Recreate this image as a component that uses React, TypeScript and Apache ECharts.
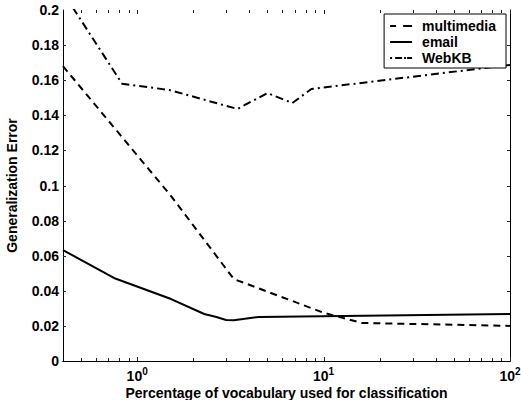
import React, { useEffect, useRef } from "react";
import * as echarts from "echarts";

// ---- Data ----
const seriesNames = ["multimedia", "email", "WebKB"];

const multimediaX = [0.4, 1.52, 3.3, 10, 16, 100];
const multimediaY = [0.168, 0.094, 0.0467, 0.0275, 0.0217, 0.02];

const emailX = [0.4, 0.75, 1.52, 2.29, 2.66, 3.0, 3.3, 4.5, 100];
const emailY = [0.0632, 0.0473, 0.0353, 0.0268, 0.0251, 0.0234, 0.0232, 0.0251, 0.0268];

const webkbX = [0.4, 0.83, 1.49, 3.45, 5.0, 6.8, 8.6, 100];
const webkbY = [0.21, 0.158, 0.1544, 0.1436, 0.1527, 0.147, 0.155, 0.1687];

const xMajorTicks = [1, 10, 100];
const xMinorTicks = [0.5, 0.6, 0.7, 0.8, 0.9, 2, 3, 4, 5, 6, 7, 8, 9, 20, 30, 40, 50, 60, 70, 80, 90];
const yTicks = [0.02, 0.04, 0.06, 0.08, 0.1, 0.12, 0.14, 0.16, 0.18];

const yMin = 0;
const yMax = 0.2;
const yStep = 0.02;
const xMin = 0.4;
const xMax = 100;

const FONT = "'Liberation Sans', Arial, Helvetica, sans-serif";

// legend icons (line samples)
const legendIcons: Record<string, string> = {
  multimedia: "path://M0,0h6v2h-6z M13,0h9v2h-9z",
  email: "path://M0,0h22v2h-22z",
  WebKB: "path://M0,0h2v2h-2z M5,0h7v2h-7z M14,0h2v2h-2z M17,0h5v2h-5z",
};

function zip(xs: number[], ys: number[]) {
  return xs.map((x, i) => [x, ys[i]]);
}

function tickRect(x: number, y: number, w: number, h: number) {
  return { type: "rect", shape: { x, y, width: w, height: h }, style: { fill: "#222" } };
}

export default function App() {
  const ref = useRef<HTMLDivElement>(null);

  useEffect(() => {
    if (!ref.current) return;
    const chart = echarts.init(ref.current, undefined, { renderer: "svg" });

    const xTickData = [
      ...xMajorTicks.map((v) => [v, 0.1, 1]),
      ...xMinorTicks.map((v) => [v, 0.1, 0]),
    ];
    const yTickData = yTicks.map((v) => [1, v]);

    const axisLineStyle = { show: true, lineStyle: { color: "#000", width: 1 } };

    const option: any = {
      animation: false,
      backgroundColor: "#fff",
      grid: {
        left: 63,
        right: 11,
        top: 10,
        bottom: 39,
        containLabel: false,
        outerBoundsMode: "none",
      },
      legend: {
        orient: "vertical",
        right: 15,
        top: 14,
        backgroundColor: "#fff",
        borderColor: "#000",
        borderWidth: 1,
        borderRadius: 0,
        padding: [5, 10, 3, 6],
        itemGap: 2,
        itemWidth: 22,
        itemHeight: 14,
        symbolKeepAspect: true,
        data: seriesNames.map((n) => ({ name: n, icon: legendIcons[n] })),
        textStyle: {
          fontFamily: FONT,
          fontWeight: "bold",
          fontSize: 14,
          color: "#000",
          padding: [0, 0, 0, 5],
        },
      },
      xAxis: [
        {
          type: "log",
          logBase: 10,
          min: xMin,
          max: xMax,
          position: "bottom",
          axisLine: axisLineStyle,
          axisTick: { show: false },
          splitLine: { show: false },
          axisLabel: {
            margin: 5,
            color: "#000",
            formatter: (v: number) => {
              const l = Math.log10(v);
              const k = Math.round(l);
              if (Math.abs(l - k) > 1e-6) return "";
              return `{b|10}{s|${k}}`;
            },
            rich: {
              b: { fontFamily: FONT, fontWeight: "bold", fontSize: 14, color: "#000" },
              s: { fontFamily: FONT, fontWeight: "bold", fontSize: 10, color: "#000", padding: [0, 0, 9, 0] },
            },
          },
          name: "Percentage of vocabulary used for classification",
          nameLocation: "middle",
          nameGap: 25,
          nameMoveOverlap: false,
          nameTextStyle: { fontFamily: FONT, fontWeight: "bold", fontSize: 14, color: "#000" },
        },
        {
          type: "log",
          logBase: 10,
          min: xMin,
          max: xMax,
          position: "top",
          axisLine: axisLineStyle,
          axisTick: { show: false },
          axisLabel: { show: false },
          splitLine: { show: false },
        },
      ],
      yAxis: [
        {
          type: "value",
          min: yMin,
          max: yMax,
          interval: yStep,
          position: "left",
          axisLine: axisLineStyle,
          axisTick: { show: false },
          splitLine: { show: false },
          axisLabel: {
            margin: 4,
            color: "#000",
            fontFamily: FONT,
            fontWeight: "bold",
            fontSize: 14,
            formatter: (v: number) => String(parseFloat(v.toFixed(2))),
          },
          name: "Generalization Error",
          nameLocation: "middle",
          nameGap: 44,
          nameMoveOverlap: false,
          nameTextStyle: { fontFamily: FONT, fontWeight: "bold", fontSize: 14, color: "#000" },
        },
        {
          type: "value",
          min: yMin,
          max: yMax,
          interval: yStep,
          position: "right",
          axisLine: axisLineStyle,
          axisTick: { show: false },
          axisLabel: { show: false },
          splitLine: { show: false },
        },
      ],
      series: [
        {
          name: "multimedia",
          type: "line",
          data: zip(multimediaX, multimediaY),
          showSymbol: false,
          symbol: "none",
          clip: true,
          lineStyle: { color: "#000", width: 2, type: [7, 5] },
          itemStyle: { color: "#000" },
        },
        {
          name: "email",
          type: "line",
          data: zip(emailX, emailY),
          showSymbol: false,
          symbol: "none",
          clip: true,
          lineStyle: { color: "#000", width: 2, type: "solid" },
          itemStyle: { color: "#000" },
        },
        {
          name: "WebKB",
          type: "line",
          data: zip(webkbX, webkbY),
          showSymbol: false,
          symbol: "none",
          clip: true,
          lineStyle: { color: "#000", width: 2, type: [8, 4, 2, 4] },
          itemStyle: { color: "#000" },
        },
        {
          name: "xTicks",
          type: "custom",
          silent: true,
          clip: false,
          z: 5,
          data: xTickData,
          renderItem: (params: any, api: any) => {
            const v = api.value(0);
            const major = api.value(2) === 1;
            const cs = params.coordSys;
            const px = Math.round(api.coord([v, 0.1])[0]);
            const len = major ? 4 : 3;
            const top = Math.round(cs.y);
            const bottom = Math.round(cs.y + cs.height);
            return {
              type: "group",
              children: [
                tickRect(px, bottom - len, 1, len),
                tickRect(px, top, 1, len),
              ],
            };
          },
        },
        {
          name: "yTicks",
          type: "custom",
          silent: true,
          clip: false,
          z: 5,
          data: yTickData,
          renderItem: (params: any, api: any) => {
            const v = api.value(1);
            const cs = params.coordSys;
            const py = Math.round(api.coord([1, v])[1]);
            const len = 3;
            const left = Math.round(cs.x);
            const right = Math.round(cs.x + cs.width);
            return {
              type: "group",
              children: [
                tickRect(left, py, len, 1),
                tickRect(right - len, py, len, 1),
              ],
            };
          },
        },
      ],
    };

    chart.setOption(option);
    return () => chart.dispose();
  }, []);

  return (
    <div
      ref={ref}
      style={{ position: "absolute", left: 0, top: 0, width: 521, height: 400, background: "#fff" }}
    />
  );
}
